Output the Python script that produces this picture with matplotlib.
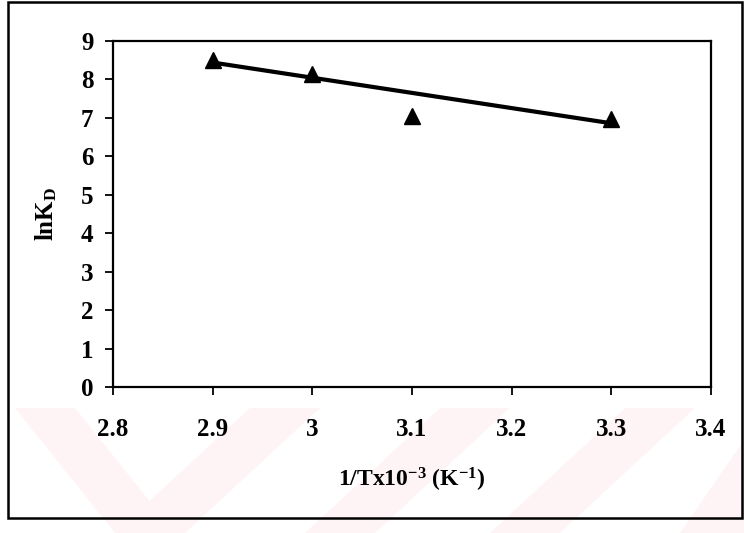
import numpy as np
import matplotlib
matplotlib.use("Agg")
import matplotlib.pyplot as plt
from matplotlib.patches import Rectangle, Polygon

# data
inv_t = [2.9, 3.0, 3.1, 3.3]
ln_kd = [8.5, 8.15, 7.06, 6.98]
# trendline ends as drawn in the picture
trend_x = [2.9, 3.3]
trend_y = [8.44, 6.86]
x_ticks = [2.8, 2.9, 3.0, 3.1, 3.2, 3.3, 3.4]
x_labels = ['2.8', '2.9', '3', '3.1', '3.2', '3.3', '3.4']
y_ticks = list(range(0, 10))

plt.rcParams['font.family'] = ['Liberation Serif', 'DejaVu Serif']
plt.rcParams['font.weight'] = 'bold'
plt.rcParams['axes.labelweight'] = 'bold'
plt.rcParams['mathtext.fontset'] = 'custom'
plt.rcParams['mathtext.rm'] = 'Liberation Serif:bold'
plt.rcParams['mathtext.it'] = 'Liberation Serif:bold'
plt.rcParams['mathtext.bf'] = 'Liberation Serif:bold'

W, H = 744, 533
fig = plt.figure(figsize=(W / 100, H / 100), dpi=100)

# faint pink watermark stripes in the lower band (pixel coords -> figure)
def px(x, y):
    return (x / W, 1 - y / H)

pink = '#fef4f6'
stripes = [
    [(15, 408), (75, 408), (175, 533), (115, 533)],
    [(250, 408), (320, 408), (185, 533), (115, 533)],
    [(440, 408), (510, 408), (375, 533), (305, 533)],
    [(625, 408), (695, 408), (560, 533), (490, 533)],
    [(744, 440), (744, 533), (680, 533)],
]
for s in stripes:
    fig.add_artist(Polygon([px(*p) for p in s], closed=True, transform=fig.transFigure,
                           facecolor=pink, edgecolor='none', zorder=-5))

ax = fig.add_axes([113 / W, 1 - 387 / H, (711 - 113) / W, (387 - 41) / H])
ax.patch.set_alpha(0)

ax.plot(trend_x, trend_y, color='black', lw=3, solid_capstyle='butt')
ax.plot(inv_t, ln_kd, linestyle='none', marker='^', color='black', ms=12)

ax.set_xlim(2.8, 3.4)
ax.set_ylim(0, 9)
ax.set_xticks(x_ticks)
ax.set_xticklabels(x_labels)
ax.set_yticks(y_ticks)
ax.tick_params(axis='both', direction='out', length=6, width=1.3, labelsize=18)
ax.tick_params(axis='x', pad=16)
ax.tick_params(axis='y', pad=8)
for s in ax.spines.values():
    s.set_linewidth(1.6)

ax.set_ylabel(r'lnK$_{\mathregular{D}}$', fontsize=18, labelpad=16)
ax.set_xlabel(r'1/Tx10$^{\mathregular{-3}}$ (K$^{\mathregular{-1}}$)', fontsize=17, labelpad=18)

# chart area frame
fig.add_artist(Rectangle((0.011, 0.028), 0.986, 0.968, transform=fig.transFigure,
                         fill=False, edgecolor='black', lw=1.8, zorder=-4))

fig.savefig('out.png', dpi=100)
